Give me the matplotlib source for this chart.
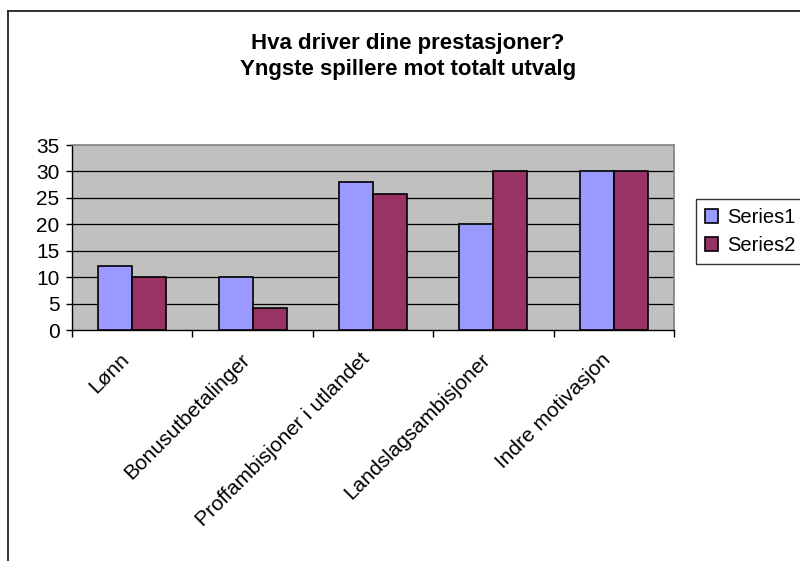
import matplotlib
matplotlib.use("Agg")
import matplotlib.pyplot as plt
import numpy as np
from matplotlib.lines import Line2D
from matplotlib.transforms import ScaledTranslation

plt.rcParams['font.family'] = ['Liberation Sans', 'DejaVu Sans']

categories = ["Lønn", "Bonusutbetalinger", "Proffambisjoner i utlandet",
              "Landslagsambisjoner", "Indre motivasjon"]
series1 = [12.2, 10, 28, 20, 30]
series2 = [10, 4.2, 25.8, 30, 30]
series_names = ["Series1", "Series2"]
yticks = [0, 5, 10, 15, 20, 25, 30, 35]
title_lines = ["Hva driver dine prestasjoner?", "Yngste spillere mot totalt utvalg"]

W, H = 800, 561
fig = plt.figure(figsize=(W/100, H/100), dpi=100)
fig.patch.set_facecolor('white')

# plot area in pixels
L, R, T, B = 72, 674, 145, 330
ax = fig.add_axes([L/W, 1 - B/H, (R-L)/W, (B-T)/H])
ax.set_facecolor('#C0C0C0')

x = np.arange(len(categories))
bw = 0.283
ax.bar(x - bw/2, series1, width=bw, color='#9999FF', edgecolor='black',
       linewidth=1.2, label=series_names[0], zorder=3)
ax.bar(x + bw/2, series2, width=bw, color='#993366', edgecolor='black',
       linewidth=1.2, label=series_names[1], zorder=3)

ax.set_xlim(-0.5, len(categories) - 0.5)
ax.set_ylim(0, 35)
ax.set_yticks(yticks)
ax.set_yticklabels([str(v) for v in yticks], fontsize=15)
for v in yticks[1:-1]:
    ax.axhline(v, color='black', linewidth=0.9, zorder=1)

# spines
ax.spines['left'].set_color('black')
ax.spines['bottom'].set_color('black')
ax.spines['left'].set_linewidth(1.0)
ax.spines['bottom'].set_linewidth(1.0)
ax.spines['top'].set_color('#808080')
ax.spines['right'].set_color('#808080')
ax.spines['top'].set_linewidth(1.2)
ax.spines['right'].set_linewidth(1.2)

ax.tick_params(axis='y', length=4, width=1, direction='out', pad=5, colors='black')
ax.set_xticks(x)
ax.set_xticklabels(categories, fontsize=15, rotation=45, ha='right', va='center',
                   rotation_mode='anchor')
ax.tick_params(axis='x', which='major', length=0, pad=19)
shift = ScaledTranslation(-6/100, 0, fig.dpi_scale_trans)
for lbl in ax.get_xticklabels():
    lbl.set_transform(lbl.get_transform() + shift)
ax.set_xticks(np.arange(len(categories) + 1) - 0.5, minor=True)
ax.tick_params(axis='x', which='minor', length=5, width=1, direction='out')

# title
fig.text(408/W, 1 - 49/H, title_lines[0], ha='center', va='baseline', fontsize=16,
         fontweight='bold')
fig.text(408/W, 1 - 75/H, title_lines[1], ha='center', va='baseline', fontsize=16,
         fontweight='bold')

# legend
leg = fig.legend(loc='upper left', bbox_to_anchor=(696/W, 1 - 199/H),
                 fontsize=14.5, frameon=True, fancybox=False, handlelength=0.65,
                 handleheight=0.65, handletextpad=0.45, borderpad=0.45,
                 labelspacing=0.45, borderaxespad=0)
leg.get_frame().set_edgecolor('black')
leg.get_frame().set_linewidth(1.0)

# outer chart border (left and top visible)
fig.add_artist(Line2D([8/W, 8/W], [0, 1 - 11/H], transform=fig.transFigure,
                      color='#222222', linewidth=1.3))
fig.add_artist(Line2D([8/W, 1], [1 - 11/H, 1 - 11/H], transform=fig.transFigure,
                      color='#222222', linewidth=1.3))

fig.savefig('out.png', dpi=100)
